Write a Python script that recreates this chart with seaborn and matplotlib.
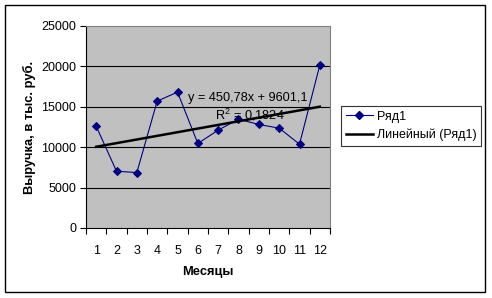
import numpy as np
import pandas as pd
import matplotlib
matplotlib.use("Agg")
import matplotlib.pyplot as plt
import seaborn as sns
from matplotlib.patches import Rectangle
from matplotlib.lines import Line2D

months = [1, 2, 3, 4, 5, 6, 7, 8, 9, 10, 11, 12]
revenue = [12600, 7030, 6860, 15700, 16820, 10460, 12110, 13470, 12810, 12360, 10370, 20170]
trend_slope = 450.78
trend_intercept = 9601.1
eq_text = "y = 450,78x + 9601,1"
r2_text = "R$^2$ = 0,1824"
series_name = "Ряд1"
trend_name = "Линейный (Ряд1)"
x_label = "Месяцы"
y_label = "Выручка, в тыс. руб."
y_ticks = [0, 5000, 10000, 15000, 20000, 25000]

plt.rcParams['font.family'] = ['Liberation Sans', 'DejaVu Sans']
plt.rcParams['mathtext.fontset'] = 'custom'
plt.rcParams['mathtext.rm'] = 'Liberation Sans'
plt.rcParams['font.size'] = 9

W, H = 492, 298
df = pd.DataFrame({"month": months, "revenue": revenue})
df["trend"] = trend_intercept + trend_slope * df["month"]

fig = plt.figure(figsize=(W/100, H/100), dpi=100)
ax = fig.add_axes([86/W, 1-228/H, 244/W, 202/H])
ax.set_facecolor("#C0C0C0")

for y in y_ticks[1:-1]:
    ax.axhline(y, color="black", lw=0.8, zorder=1)

sns.lineplot(data=df, x="month", y="revenue", ax=ax, color="#000080", lw=0.8,
             marker="D", markersize=4, markeredgecolor="#000080", zorder=3, legend=False)
sns.lineplot(data=df, x="month", y="trend", ax=ax, color="black", lw=1.8, zorder=4, legend=False)

ax.set_xlim(0.5, 12.5)
ax.set_ylim(0, 25000)
ax.set_yticks(y_ticks)
ax.set_yticklabels([str(v) for v in y_ticks])
ax.set_xticks(np.arange(0.5, 13, 1))
ax.set_xticklabels([])
ax.set_xticks(months, minor=True)
ax.set_xticklabels([str(m) for m in months], minor=True)
ax.tick_params(axis="x", which="major", direction="out", length=4, width=0.8, color="black")
ax.tick_params(axis="x", which="minor", length=0, pad=12, labelsize=9)
ax.tick_params(axis="y", direction="out", length=4, width=0.8, color="black", pad=3, labelsize=9)

for s in ["top", "right"]:
    ax.spines[s].set_color("#808080")
    ax.spines[s].set_linewidth(0.8)
for s in ["left", "bottom"]:
    ax.spines[s].set_color("black")
    ax.spines[s].set_linewidth(0.8)

ax.set_xlabel(x_label, fontweight="bold", fontsize=9.3, labelpad=7)
ax.set_ylabel(y_label, fontweight="bold", fontsize=9.3, labelpad=3.5)

fig.text(188/W, 1-98/H, eq_text, fontsize=9.2, va="center", ha="left")
fig.text(215/W, 1-115/H, r2_text, fontsize=9.2, va="center", ha="left")

handles = [Line2D([], [], color="#000080", lw=0.8, marker="D", markersize=4),
           Line2D([], [], color="black", lw=1.8)]
leg = fig.legend(handles, [series_name, trend_name], loc="center",
                 bbox_to_anchor=(411/W, 1-126/H), frameon=True, fancybox=False,
                 edgecolor="black", fontsize=9, handlelength=2.2, handletextpad=0.3,
                 borderpad=0.4, labelspacing=0.5, borderaxespad=0)
leg.get_frame().set_linewidth(0.8)

fig.patches.append(Rectangle((5/W, 1-292/H), 480/W, 287/H, transform=fig.transFigure,
                             fill=False, edgecolor="black", lw=1))

fig.savefig("out.png", dpi=100)
